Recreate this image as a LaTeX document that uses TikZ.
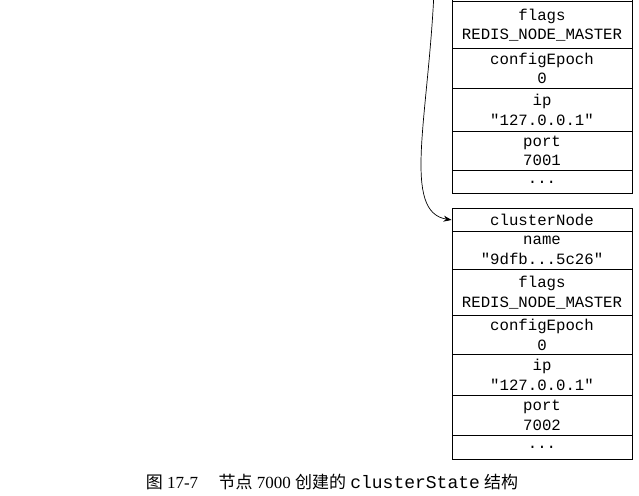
\documentclass[tikz,border=0pt]{standalone}
\usepackage{fontspec}
\setmainfont{Liberation Serif}
\setmonofont{Liberation Mono}
\newfontfamily\cjk{Noto Sans CJK SC}
\newfontfamily\serifnum{Liberation Serif}
\usetikzlibrary{arrows.meta}
\begin{document}
\begin{tikzpicture}[x=1pt,y=-1pt,
  rowbox/.style={draw=black, line width=0.9pt, minimum width=180pt, inner sep=0pt,
    align=center, font=\ttfamily\fontsize{15.7}{19.5}\selectfont, anchor=north},
  link/.style={line width=0.7pt, -{Stealth[length=8pt,width=6pt]}}]
\useasboundingbox (0,0) rectangle (639,495);
\clip (0,0) rectangle (639,495);
% top clusterNode (partially visible)
\node[rowbox, minimum height=31pt] (tname) at (542,-30) {};
\node[rowbox, minimum height=47pt] (tflags) at (542,1) {flags\\REDIS\_NODE\_MASTER};
\node[rowbox, minimum height=40pt] (tepoch) at (542,48) {configEpoch\\0};
\node[rowbox, minimum height=43pt] (tip) at (542,88) {ip\\"127.0.0.1"};
\node[rowbox, minimum height=39pt] (tport) at (542,131) {port\\7001};
\node[rowbox, minimum height=23pt] (tmore) at (542,170) {...};
% bottom clusterNode
\node[rowbox, minimum height=23pt] (bcn) at (542,208) {clusterNode};
\node[rowbox, minimum height=38pt] (bname) at (542,231) {name\\"9dfb...5c26"};
\node[rowbox, minimum height=46pt] (bflags) at (542,269) {flags\\REDIS\_NODE\_MASTER};
\node[rowbox, minimum height=39pt] (bepoch) at (542,315) {configEpoch\\0};
\node[rowbox, minimum height=41pt] (bip) at (542,354) {ip\\"127.0.0.1"};
\node[rowbox, minimum height=40pt] (bport) at (542,395) {port\\7002};
\node[rowbox, minimum height=24pt] (bmore) at (542,435) {...};
% connector
\coordinate (cstart) at (434,-8);
\draw[link] (cstart) .. controls (428,120) and (402,212) .. (bcn.west);
% caption
\node (cap) at (332,482) {\fontsize{17}{19}\selectfont{\cjk 图}~{\serifnum 17-7}\hspace{1.2em}{\cjk 节点}~{\serifnum 7000}~{\cjk 创建的}~{\ttfamily\fontsize{18}{19}\selectfont clusterState}~{\cjk 结构}};
\end{tikzpicture}
\end{document}
